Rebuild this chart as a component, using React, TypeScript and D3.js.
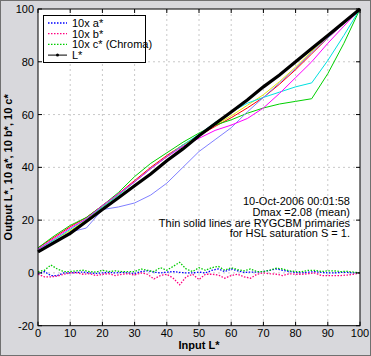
import React from "react";
import * as d3 from "d3";

const W = 371;
const H = 356;

// Input L* grid for the primaries and L* curve
const inputL = [0, 5, 10, 15, 20, 25, 30, 35, 40, 45, 50, 55, 60, 65, 70, 75, 80, 85, 90, 95, 100];
const outL = [8, 11.5, 15, 19.5, 24, 28.5, 33, 37.5, 42.5, 47, 52, 56.5, 61, 65.5, 70.5, 75, 80, 85, 90, 95, 100];

const primR = [9.5, 13.5, 17.5, 21, 25.5, 30, 35, 40, 44.5, 48.5, 52, 55.5, 58.8, 62.5, 66.5, 71.5, 77, 83, 89, 94.5, 100];
const primY = [9, 12.5, 16, 20, 25, 29.5, 34.5, 39.5, 44, 48.5, 52, 56, 59.5, 63.5, 67.5, 72.5, 78, 84, 89.5, 95, 100];
const primG = [9.5, 14, 18, 21, 25.5, 30.5, 36.5, 41.5, 45.5, 49.5, 53, 56, 58, 60.5, 62.5, 64, 65, 66, 75.5, 87, 100];
const primC = [9, 12.5, 16.5, 20.5, 25, 29.5, 34.5, 39.5, 44, 48.5, 52.5, 57, 61, 64.3, 66.5, 68.5, 70.5, 72, 80.5, 90, 100];
const primB = [8.5, 12, 15.5, 17, 24, 25, 26.5, 29.5, 34, 40, 46, 50.5, 55, 61, 66.5, 72, 77.5, 83.5, 89, 94.5, 100];
const primM = [9, 13, 17, 20.5, 25.5, 30, 34.5, 39.5, 44, 48, 51, 54, 56, 58.5, 62.5, 68, 74, 80, 87, 93.5, 100];

// Chroma error curves (x10), every 2 units of input L*
const errL = d3.range(0, 101, 2);
const aStar = [-0.5, 0.5, -1, -1, 0, 0, 0.2, 0.3, 0, -0.2, 0, 0.2, 0, 0.2, 0, -0.2, 0.5, 0.8, 0.3, 0, 0.3, 0.5, 0.2, 0, 0, 0.3, 0, 1, 1.5, 0.5, 1.5, 0.8, 0.2, 0.3, 0.3, 0.5, 1, 1.5, 1, 0.5, 0.2, 0, 0.3, 0.5, 0.2, 0, 0, 0.2, 0.2, 0, 0];
const bStar = [-0.5, -1.5, -1.5, -1.2, -0.5, 0, 0, -0.5, -0.3, -1, -0.5, -0.3, -1, -0.5, -0.3, -0.8, 0, -0.5, -2.3, -1, -0.5, -2, -4.5, -1.5, -0.5, -2.5, -0.5, -0.5, -0.8, -2, -1, -0.5, -1.5, -2, -0.5, 0, -0.3, -0.5, -1, -0.3, -0.5, -0.5, -0.3, 0, -1, -1, -1, -1, -0.8, -0.5, 0];
const cStar = [0.5, 1, 3, 1.5, 0.5, 0.5, 0.8, 1, 0.5, 0.3, 1, 0.5, 0.8, 0.5, 0.5, 0.5, 1.5, 1, 0.5, 2, 1, 2.5, 4, 1.5, 0.5, 2, 1, 2, 2.5, 1, 2, 1.2, 0.8, 1.5, 0.5, 0.5, 1, 1.8, 1.5, 0.8, 0.5, 0.5, 1, 1, 0.5, 0.8, 0.8, 0.5, 0.6, 0.3, 0];

const xTicks = [0, 10, 20, 30, 40, 50, 60, 70, 80, 90, 100];
const yTicks = [-20, 0, 20, 40, 60, 80, 100];

const legendLabels = ["10x a*", "10x b*", "10x c* (Chroma)", "L*"];
const noteLines = [
  "10-Oct-2006 00:01:58",
  "Dmax =2.08 (mean)",
  "Thin solid lines are RYGCBM primaries",
  "for HSL saturation S = 1.",
];

const X0 = 38, X1 = 360, Y0 = 9, Y1 = 325.7;

export default function App() {
  const x = d3.scaleLinear().domain([0, 100]).range([X0, X1]);
  const y = d3.scaleLinear().domain([-20, 100]).range([Y1, Y0]);
  const line = (xs: number[], ys: number[]) =>
    d3.line<number>().x((_, i) => x(xs[i])).y((d) => y(d))(ys) || "";

  const prims = [
    { v: primR, c: "#ff0000" },
    { v: primY, c: "#e8e800" },
    { v: primG, c: "#00d000" },
    { v: primC, c: "#00e0e0" },
    { v: primB, c: "#8080ff" },
    { v: primM, c: "#ff00ff" },
  ];
  const errs = [
    { v: aStar, c: "#0000ff" },
    { v: bStar, c: "#ff0080" },
    { v: cStar, c: "#00cc00" },
  ];
  const font = "'Liberation Sans', Arial, sans-serif";
  const legendColors = ["#0000ff", "#ff0080", "#00cc00", "#000000"];

  return (
    <svg width={W} height={H} style={{ position: "absolute", left: 0, top: 0 }} fontFamily={font}>
      <rect x={0.5} y={0.5} width={W - 1} height={H - 1} fill="#d8d8dc" stroke="#707070" />
      <rect x={X0} y={Y0} width={X1 - X0} height={Y1 - Y0} fill="#ffffff" />
      {/* grid */}
      {xTicks.slice(1, -1).map((t) => (
        <line key={"gx" + t} x1={x(t)} x2={x(t)} y1={Y0} y2={Y1} stroke="#c8c8c8" strokeDasharray="2,3" />
      ))}
      {yTicks.slice(1, -1).map((t) => (
        <line key={"gy" + t} x1={X0} x2={X1} y1={y(t)} y2={y(t)} stroke="#c8c8c8" strokeDasharray="2,3" />
      ))}
      {/* error curves */}
      {errs.map((e, i) => (
        <path key={"e" + i} d={line(errL, e.v)} fill="none" stroke={e.c} strokeWidth={1.3} strokeDasharray="1.5,1.5" />
      ))}
      {/* primaries */}
      {prims.map((p, i) => (
        <path key={"p" + i} d={line(inputL, p.v)} fill="none" stroke={p.c} strokeWidth={1} />
      ))}
      {/* L* */}
      <path d={line(inputL, outL)} fill="none" stroke="#000" strokeWidth={3.2} />
      {/* box & ticks */}
      <rect x={X0} y={Y0} width={X1 - X0} height={Y1 - Y0} fill="none" stroke="#000" strokeWidth={1} />
      {xTicks.map((t) => (
        <g key={"xt" + t}>
          <line x1={x(t)} x2={x(t)} y1={Y1} y2={Y1 - 4} stroke="#000" />
          <line x1={x(t)} x2={x(t)} y1={Y0} y2={Y0 + 4} stroke="#000" />
          <text x={x(t)} y={337} fontSize={11} textAnchor="middle" fill="#000">{t}</text>
        </g>
      ))}
      {yTicks.map((t) => (
        <g key={"yt" + t}>
          <line x1={X0} x2={X0 + 4} y1={y(t)} y2={y(t)} stroke="#000" />
          <line x1={X1} x2={X1 - 4} y1={y(t)} y2={y(t)} stroke="#000" />
          <text x={34} y={y(t) + 4} fontSize={11} textAnchor="end" fill="#000">{t}</text>
        </g>
      ))}
      {/* axis labels */}
      <text x={199} y={349} fontSize={11} fontWeight="bold" textAnchor="middle">Input L*</text>
      <text transform={`translate(12,${(Y0 + Y1) / 2}) rotate(-90)`} fontSize={11} fontWeight="bold" textAnchor="middle">
        Output L*, 10 a*, 10 b*, 10 c*
      </text>
      {/* legend */}
      <rect x={43.5} y={15.5} width={102} height={47} fill="#fff" stroke="#000" />
      {legendLabels.map((l, i) => {
        const ly = 23 + i * 10.7;
        return (
          <g key={"lg" + i}>
            {i < 3 ? (
              <line x1={48} x2={67} y1={ly} y2={ly} stroke={legendColors[i]} strokeWidth={1.3} strokeDasharray="1.5,1.5" />
            ) : (
              <g>
                <line x1={48} x2={67} y1={ly} y2={ly} stroke="#000" strokeWidth={1} />
                <circle cx={57.5} cy={ly} r={1.5} fill="#000" />
              </g>
            )}
            <text x={72} y={ly + 4} fontSize={11} fill="#000">{l}</text>
          </g>
        );
      })}
      {/* note */}
      {noteLines.map((t, i) => (
        <text key={"n" + i} x={350} y={205 + i * 10.8} fontSize={11} textAnchor="end" fill="#000">{t}</text>
      ))}
    </svg>
  );
}
